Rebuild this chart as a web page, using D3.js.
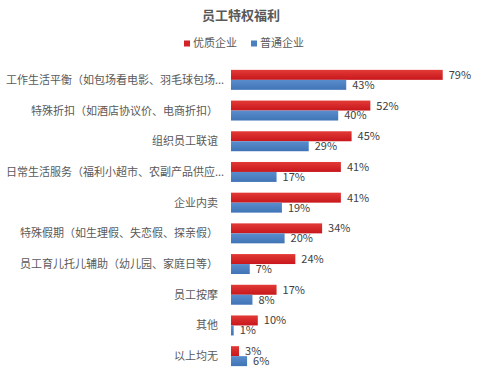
<!DOCTYPE html>
<html>
<head>
<meta charset="utf-8">
<script src="https://cdn.jsdelivr.net/npm/d3@7"></script>
<style>
  body { margin: 0; background: #fff; }
  text { font-family: "Noto Sans CJK SC", "Microsoft YaHei", sans-serif; }
</style>
</head>
<body>
<div id="chart"></div>
<script>
// data
const categories = [
  "工作生活平衡（如包场看电影、羽毛球包场...",
  "特殊折扣（如酒店协议价、电商折扣）",
  "组织员工联谊",
  "日常生活服务（福利小超市、农副产品供应...",
  "企业内卖",
  "特殊假期（如生理假、失恋假、探亲假）",
  "员工育儿托儿辅助（幼儿园、家庭日等）",
  "员工按摩",
  "其他",
  "以上均无"
]
const truncated = [true, false, false, true, false, false, false, false, false, false]
const seriesNames = ["优质企业", "普通企业"]
const premium = [79, 52, 45, 41, 41, 34, 24, 17, 10, 3]
const ordinary = [43, 40, 29, 17, 19, 20, 7, 8, 1, 6]

var width = 481,
    height = 387

const svg = d3.select("#chart")
  .append("svg")
    .attr("width", width)
    .attr("height", height)

// gradients
const defs = svg.append("defs")
const grads = [["gRed", "#e23a36", "#c8171c"], ["gBlue", "#5a8dcc", "#3f74b6"]]
grads.forEach(function(g) {
  const lg = defs.append("linearGradient")
      .attr("id", g[0])
      .attr("x1", 0).attr("y1", 0).attr("x2", 0).attr("y2", 1)
  lg.append("stop").attr("offset", "0%").attr("stop-color", g[1])
  lg.append("stop").attr("offset", "100%").attr("stop-color", g[2])
})
const fills = ["url(#gRed)", "url(#gBlue)"]
const legendColors = ["#d42226", "#4a7fc0"]

// scales
const y0 = d3.scaleBand()
    .domain(categories)
    .range([64.5, 371.5])
    .paddingInner(0.35)
    .paddingOuter(0.175)

const y1 = d3.scaleBand()
    .domain(seriesNames)
    .range([0, y0.bandwidth()])

const x = d3.scaleLinear()
    .domain([0, 100])
    .range([231, 499])

const rows = categories.map(function(c, i) {
  return { cat: c, trunc: truncated[i], vals: [premium[i], ordinary[i]] }
})

// bars
const groups = svg.append("g")
  .selectAll("g")
  .data(rows)
  .join("g")
    .attr("transform", function(d) { return "translate(0," + y0(d.cat) + ")" })

groups.selectAll("rect")
  .data(function(d) { return d.vals.map(function(v, j) { return { s: seriesNames[j], v: v, j: j } }) })
  .join("rect")
    .attr("x", x(0))
    .attr("y", function(d) { return y1(d.s) })
    .attr("width", function(d) { return x(d.v) - x(0) })
    .attr("height", y1.bandwidth())
    .attr("fill", function(d) { return fills[d.j] })

// value labels
groups.selectAll("text.val")
  .data(function(d) { return d.vals.map(function(v, j) { return { s: seriesNames[j], v: v } }) })
  .join("text")
    .attr("class", "val")
    .attr("x", function(d) { return x(d.v) + 6 })
    .attr("y", function(d) { return y1(d.s) + y1.bandwidth() / 2 })
    .attr("dy", "0.36em")
    .attr("font-size", 11)
    .attr("fill", "#404040")
    .text(function(d) { return d.v + "%" })

// category labels
svg.append("g")
  .selectAll("text")
  .data(rows)
  .join("text")
    .attr("x", function(d) { return d.trunc ? 6 : 218 })
    .attr("y", function(d) { return y0(d.cat) + y0.bandwidth() / 2 })
    .attr("dy", "0.36em")
    .attr("text-anchor", function(d) { return d.trunc ? "start" : "end" })
    .attr("font-size", 11)
    .attr("fill", "#595959")
    .text(function(d) { return d.cat })

// title
svg.append("text")
    .attr("x", 241)
    .attr("y", 20)
    .attr("text-anchor", "middle")
    .attr("font-size", 13)
    .attr("font-weight", "bold")
    .attr("fill", "#595959")
    .text("员工特权福利")

// legend
const legendX = [184, 251]
const legend = svg.append("g")
  .selectAll("g")
  .data(seriesNames)
  .join("g")
    .attr("transform", function(d, i) { return "translate(" + legendX[i] + ",43.5)" })
legend.append("rect")
    .attr("x", 0).attr("y", -3)
    .attr("width", 6).attr("height", 6)
    .attr("fill", function(d, i) { return legendColors[i] })
legend.append("text")
    .attr("x", 9)
    .attr("dy", "0.36em")
    .attr("font-size", 11)
    .attr("fill", "#595959")
    .text(function(d) { return d })
</script>
</body>
</html>
